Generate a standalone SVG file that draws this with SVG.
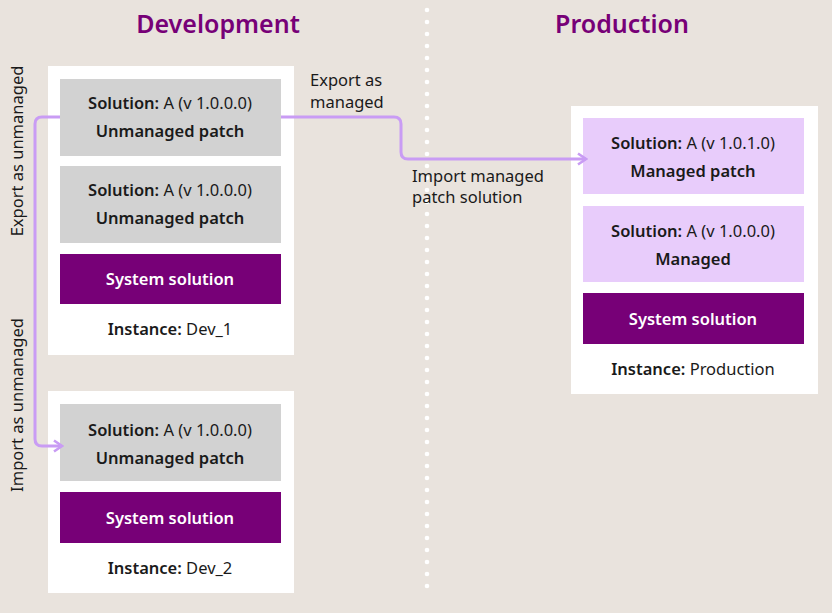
<svg xmlns="http://www.w3.org/2000/svg" width="832" height="613" viewBox="0 0 832 613">
<defs>
<style>
text{font-family:"Noto Sans","Open Sans","Liberation Sans",sans-serif;font-size:16.5px;fill:#1a1a1a}
.title{font-size:25px;font-weight:600;fill:#770077;text-anchor:middle}
.b{font-weight:600}
.c{text-anchor:middle}
.w{fill:#ffffff;font-weight:600}
.inst{fill:#ffffff}
.gray{fill:#d2d2d2}
.lp{fill:#e8ccfb}
.sys{fill:#770077}
.conn{fill:none;stroke:#c99cf4;stroke-width:3}
</style>
<marker id="ah" viewBox="0 0 12 14" refX="10" refY="7" markerWidth="12" markerHeight="14" markerUnits="userSpaceOnUse" orient="auto">
<path d="M2,1.5 L10,7 L2,12.5" fill="none" stroke="#c99cf4" stroke-width="2.6"/>
</marker>
</defs>
<rect width="832" height="613" fill="#e9e3dd"/>
<g id="divider" fill="#ffffff">
<circle cx="427" cy="10" r="2.3"/><circle cx="427" cy="22" r="2.3"/><circle cx="427" cy="34" r="2.3"/><circle cx="427" cy="46" r="2.3"/><circle cx="427" cy="58" r="2.3"/><circle cx="427" cy="70" r="2.3"/><circle cx="427" cy="82" r="2.3"/><circle cx="427" cy="94" r="2.3"/><circle cx="427" cy="106" r="2.3"/><circle cx="427" cy="118" r="2.3"/><circle cx="427" cy="130" r="2.3"/><circle cx="427" cy="142" r="2.3"/><circle cx="427" cy="154" r="2.3"/><circle cx="427" cy="166" r="2.3"/><circle cx="427" cy="178" r="2.3"/><circle cx="427" cy="190" r="2.3"/><circle cx="427" cy="202" r="2.3"/><circle cx="427" cy="214" r="2.3"/><circle cx="427" cy="226" r="2.3"/><circle cx="427" cy="238" r="2.3"/><circle cx="427" cy="250" r="2.3"/><circle cx="427" cy="262" r="2.3"/><circle cx="427" cy="274" r="2.3"/><circle cx="427" cy="286" r="2.3"/><circle cx="427" cy="298" r="2.3"/><circle cx="427" cy="310" r="2.3"/><circle cx="427" cy="322" r="2.3"/><circle cx="427" cy="334" r="2.3"/><circle cx="427" cy="346" r="2.3"/><circle cx="427" cy="358" r="2.3"/><circle cx="427" cy="370" r="2.3"/><circle cx="427" cy="382" r="2.3"/><circle cx="427" cy="394" r="2.3"/><circle cx="427" cy="406" r="2.3"/><circle cx="427" cy="418" r="2.3"/><circle cx="427" cy="430" r="2.3"/><circle cx="427" cy="442" r="2.3"/><circle cx="427" cy="454" r="2.3"/><circle cx="427" cy="466" r="2.3"/><circle cx="427" cy="478" r="2.3"/><circle cx="427" cy="490" r="2.3"/><circle cx="427" cy="502" r="2.3"/><circle cx="427" cy="514" r="2.3"/><circle cx="427" cy="526" r="2.3"/><circle cx="427" cy="538" r="2.3"/><circle cx="427" cy="550" r="2.3"/><circle cx="427" cy="562" r="2.3"/><circle cx="427" cy="574" r="2.3"/><circle cx="427" cy="586" r="2.3"/>
</g>
<text class="title" x="218" y="33">Development</text>
<text class="title" x="622" y="33">Production</text>

<g id="dev1">
<rect class="inst" x="48" y="66" width="246" height="289"/>
<g id="dev1-patch1"><rect class="gray" x="60" y="79" width="221" height="77"/>
<text class="c" x="170" y="109"><tspan class="b">Solution:</tspan> A (v 1.0.0.0)</text>
<text class="c b" x="170" y="137">Unmanaged patch</text></g>
<g id="dev1-patch2"><rect class="gray" x="60" y="166" width="221" height="77"/>
<text class="c" x="170" y="196"><tspan class="b">Solution:</tspan> A (v 1.0.0.0)</text>
<text class="c b" x="170" y="224">Unmanaged patch</text></g>
<g id="dev1-sys"><rect class="sys" x="60" y="254" width="221" height="50"/>
<text class="c w" x="170" y="285">System solution</text></g>
<text class="c" x="170" y="335"><tspan class="b">Instance:</tspan> Dev_1</text>
</g>

<g id="dev2">
<rect class="inst" x="48" y="391" width="246" height="202"/>
<g id="dev2-patch"><rect class="gray" x="60" y="404" width="221" height="77"/>
<text class="c" x="170" y="436"><tspan class="b">Solution:</tspan> A (v 1.0.0.0)</text>
<text class="c b" x="170" y="464">Unmanaged patch</text></g>
<g id="dev2-sys"><rect class="sys" x="60" y="492" width="221" height="51"/>
<text class="c w" x="170" y="524">System solution</text></g>
<text class="c" x="170" y="574"><tspan class="b">Instance:</tspan> Dev_2</text>
</g>

<g id="prod">
<rect class="inst" x="571" y="106" width="247" height="288"/>
<g id="prod-patch"><rect class="lp" x="583" y="118" width="221" height="76"/>
<text class="c" x="693" y="149"><tspan class="b">Solution:</tspan> A (v 1.0.1.0)</text>
<text class="c b" x="693" y="177">Managed patch</text></g>
<g id="prod-managed"><rect class="lp" x="583" y="206" width="221" height="76"/>
<text class="c" x="693" y="237"><tspan class="b">Solution:</tspan> A (v 1.0.0.0)</text>
<text class="c b" x="693" y="265">Managed</text></g>
<g id="prod-sys"><rect class="sys" x="583" y="293" width="221" height="51"/>
<text class="c w" x="693" y="325">System solution</text></g>
<text class="c" x="693" y="375"><tspan class="b">Instance:</tspan> Production</text>
</g>

<g id="connectors">
<path class="conn" d="M60,117 H42 Q35,117 35,124 V439 Q35,446 42,446 H62" marker-end="url(#ah)"/>
<path class="conn" d="M281,117 H394 Q401,117 401,124 V152 Q401,159 408,159 H586" marker-end="url(#ah)"/>
<text x="310" y="86">Export as</text>
<text x="310" y="108">managed</text>
<text x="412" y="182">Import managed</text>
<text x="412" y="203">patch solution</text>
<text class="c" transform="translate(23,151) rotate(-90)">Export as unmanaged</text>
<text class="c" transform="translate(23,405) rotate(-90)">Import as unmanaged</text>
</g>
</svg>
